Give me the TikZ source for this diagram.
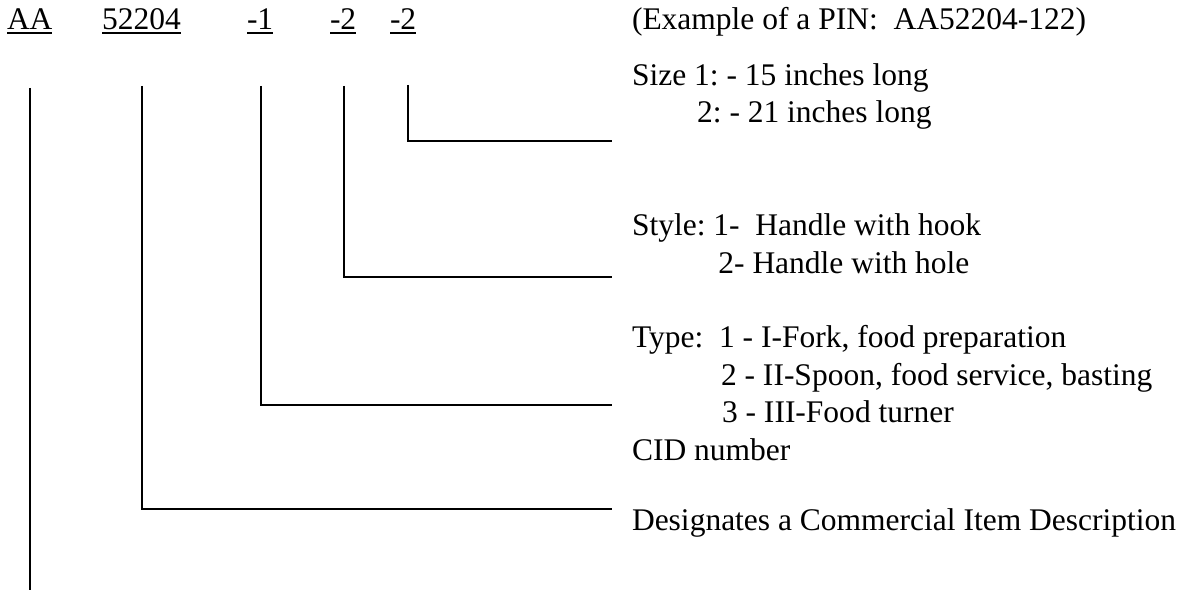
\documentclass[tikz,border=0pt]{standalone}
\usepackage{fontspec}
\setmainfont{Liberation Serif}
\begin{document}
\begin{tikzpicture}[x=0.4pt,y=-0.4pt,
  every node/.style={inner sep=0pt, outer sep=0pt, anchor=base west,
    font=\fontsize{12.6}{15}\selectfont\frenchspacing},
  lead/.style={line width=0.6pt, line cap=butt},
  ul/.style={line width=0.55pt}]
\useasboundingbox (0,0) rectangle (1185,590);
% code labels
\node (aa)  at (7,29.5)   {AA};
\node (cid) at (102,29.5) {52204};
\node (typ) at (247,29.5) {-1};
\node (sty) at (330,29.5) {-2};
\node (siz) at (390,29.5) {-2};
\foreach \n in {aa,cid,typ,sty,siz}
  \draw[ul] ([yshift=-1.4pt]\n.base west) -- ([yshift=-1.4pt]\n.base east);
% explanations
\node (ex)     at (632,29.5)  {(Example of a PIN:\ \ AA52204-122)};
\node (size1)  at (632,86)    {Size 1: - 15 inches long};
\node (size2)  at (635,122.5) {\hphantom{Size\ }2: - 21 inches long};
\node (style1) at (632,236)   {Style: 1-\ \ Handle with hook};
\node (style2) at (637,274)   {\hphantom{Style:\ }2- Handle with hole};
\node (type1)  at (632,348)   {Type:\ \ 1 - I-Fork, food preparation};
\node (type2)  at (634,385.5) {\hphantom{Type:\ \ }2 - II-Spoon, food service, basting};
\node (type3)  at (635,423)   {\hphantom{Type:\ \ }3 - III-Food turner};
\node (cidn)   at (632,460.5) {CID number};
\node (desig)  at (632,531)   {Designates a Commercial Item Description};
% connector ends
\coordinate (aaT)  at (30,88);  \coordinate (aaB)  at (30,590);
\coordinate (cidT) at (142,86); \coordinate (cidE) at (612,509);
\coordinate (typT) at (261,86); \coordinate (typE) at (612,405);
\coordinate (styT) at (344,86); \coordinate (styE) at (612,277);
\coordinate (sizT) at (408,85); \coordinate (sizE) at (612,141);
% connectors
\draw[lead] (aaT) -- (aaB);
\draw[lead] (cidT) |- (cidE);
\draw[lead] (typT) |- (typE);
\draw[lead] (styT) |- (styE);
\draw[lead] (sizT) |- (sizE);
\end{tikzpicture}
\end{document}
